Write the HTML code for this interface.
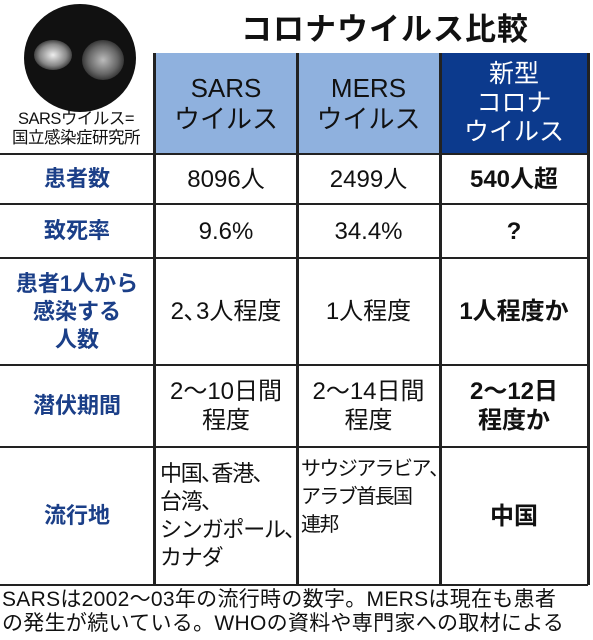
<!DOCTYPE html>
<html><head><meta charset="utf-8"><style>
body{margin:0;width:593px;height:640px;background:#fff;overflow:hidden;font-family:"Liberation Sans","Noto Sans CJK JP",sans-serif;position:relative}
.a{position:absolute}
.title{left:190px;top:4px;width:390px;text-align:center;font-size:31px;font-weight:bold;color:#111;letter-spacing:1px}
.cell{position:absolute;display:flex;align-items:center;justify-content:center;text-align:center;font-size:24px;line-height:29px;color:#111;white-space:nowrap}
.lab{color:#1b3f88;font-weight:bold;font-size:22px;line-height:28px}
.b{font-weight:bold}
.h{background:#8fb1de}
.hd{background:#0c3a8d;color:#fff}
.hl{position:absolute;height:2px;background:#222}
.vl{position:absolute;width:3px;background:#222}
.foot{left:2px;top:588px;font-size:21px;line-height:24px;color:#111;white-space:nowrap;letter-spacing:0.3px}
</style></head><body>
<div class="a" style="left:24px;top:4px;width:112px;height:108px;border-radius:50%;background:#111;overflow:hidden">
 <div class="a" style="left:10px;top:36px;width:38px;height:30px;border-radius:50%;background:radial-gradient(#eee,#888 50%,#222 80%)"></div>
 <div class="a" style="left:58px;top:36px;width:42px;height:40px;border-radius:50%;background:radial-gradient(#bbb,#666 50%,#222 80%)"></div>
</div>
<div class="a" style="left:0px;top:110px;width:152px;font-size:16.5px;line-height:19px;color:#111;text-align:center;letter-spacing:-0.5px;white-space:nowrap">SARSウイルス=<br>国立感染症研究所</div>
<div class="a title">コロナウイルス比較</div>

<div class="cell h" style="left:155px;top:53px;width:142px;height:101px;font-size:26px;line-height:31px">SARS<br>ウイルス</div>
<div class="cell h" style="left:297px;top:53px;width:143px;height:101px;font-size:26px;line-height:31px">MERS<br>ウイルス</div>
<div class="cell hd" style="left:440px;top:53px;width:148px;height:101px;font-size:25px;line-height:29px">新型<br>コロナ<br>ウイルス</div>

<div class="cell lab" style="left:0;top:154px;width:154px;height:50px">患者数</div>
<div class="cell" style="left:155px;top:154px;width:142px;height:50px">8096人</div>
<div class="cell" style="left:297px;top:154px;width:143px;height:50px">2499人</div>
<div class="cell b" style="left:440px;top:154px;width:148px;height:50px">540人超</div>

<div class="cell lab" style="left:0;top:204px;width:154px;height:54px">致死率</div>
<div class="cell" style="left:155px;top:204px;width:142px;height:54px">9.6%</div>
<div class="cell" style="left:297px;top:204px;width:143px;height:54px">34.4%</div>
<div class="cell b" style="left:440px;top:204px;width:148px;height:54px">?</div>

<div class="cell lab" style="left:0;top:258px;width:154px;height:107px">患者1人から<br>感染する<br>人数</div>
<div class="cell" style="left:155px;top:258px;width:142px;height:107px">2､3人程度</div>
<div class="cell" style="left:297px;top:258px;width:143px;height:107px">1人程度</div>
<div class="cell b" style="left:440px;top:258px;width:148px;height:107px">1人程度か</div>

<div class="cell lab" style="left:0;top:365px;width:154px;height:82px">潜伏期間</div>
<div class="cell" style="left:155px;top:365px;width:142px;height:82px">2～10日間<br>程度</div>
<div class="cell" style="left:297px;top:365px;width:143px;height:82px">2～14日間<br>程度</div>
<div class="cell b" style="left:440px;top:365px;width:148px;height:82px">2～12日<br>程度か</div>

<div class="cell lab" style="left:0;top:447px;width:154px;height:138px">流行地</div>
<div class="cell" style="left:160px;top:447px;width:137px;height:138px;justify-content:flex-start;text-align:left;line-height:28px;font-size:22px;letter-spacing:-1.2px">中国､香港､<br>台湾､<br>シンガポール､<br>カナダ</div>
<div class="cell" style="left:301px;top:447px;width:139px;height:138px;justify-content:flex-start;align-items:flex-start;padding-top:8px;box-sizing:border-box;text-align:left;line-height:28px;font-size:20px;letter-spacing:-1.6px">サウジアラビア､<br>アラブ首長国<br>連邦</div>
<div class="cell b" style="left:440px;top:447px;width:148px;height:138px">中国</div>

<div class="hl" style="left:0;top:153px;width:588px"></div>
<div class="hl" style="left:0;top:203px;width:588px"></div>
<div class="hl" style="left:0;top:257px;width:588px"></div>
<div class="hl" style="left:0;top:364px;width:588px"></div>
<div class="hl" style="left:0;top:446px;width:588px"></div>
<div class="hl" style="left:0;top:584px;width:588px"></div>
<div class="vl" style="left:153px;top:53px;height:532px"></div>
<div class="vl" style="left:296px;top:53px;height:532px"></div>
<div class="vl" style="left:439px;top:53px;height:532px"></div>
<div class="vl" style="left:587px;top:53px;height:532px"></div>

<div class="a foot">SARSは2002～03年の流行時の数字。MERSは現在も患者<br>の発生が続いている。WHOの資料や専門家への取材による</div>
</body></html>
